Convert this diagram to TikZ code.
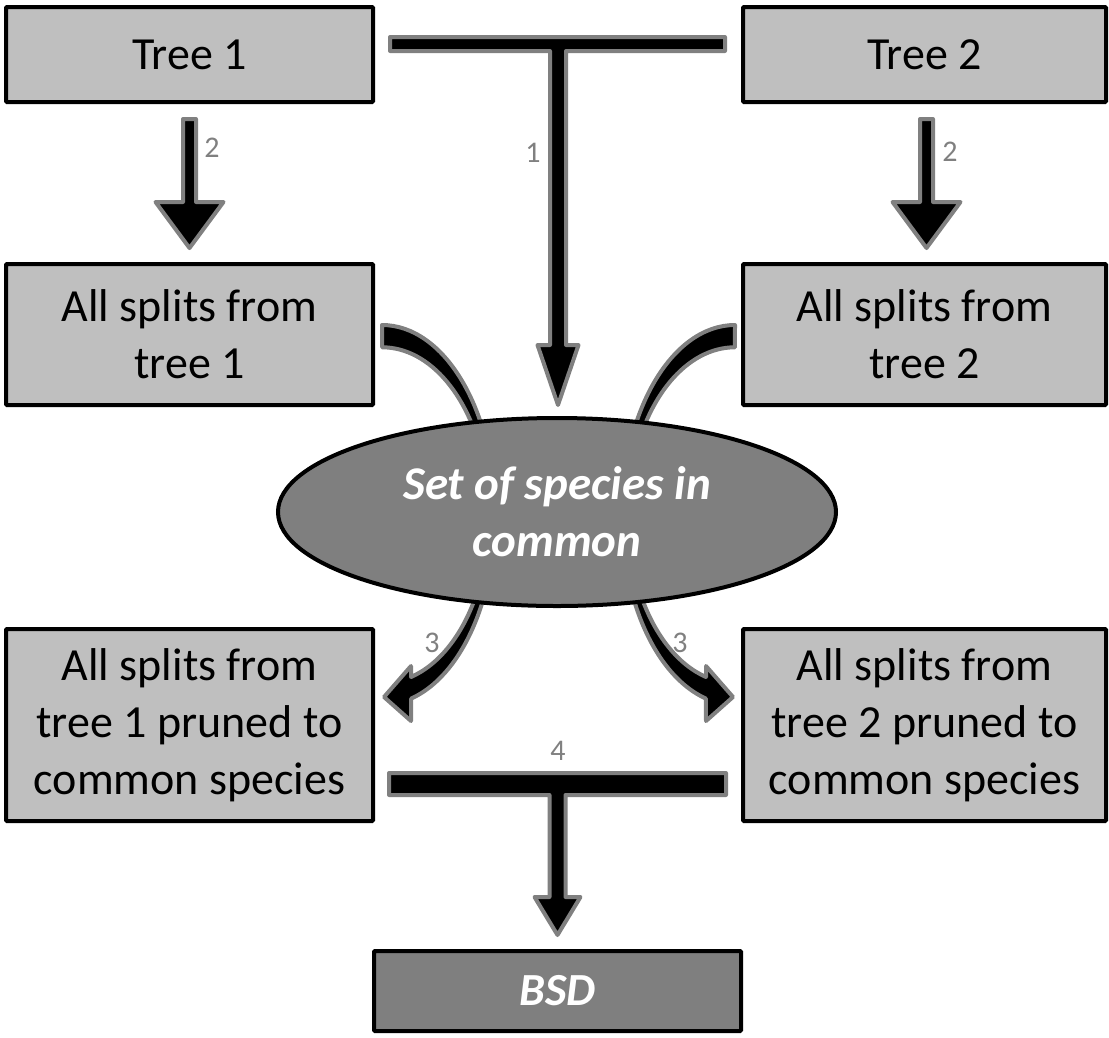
\documentclass[tikz,border=0pt]{standalone}
\usepackage{fontspec}
\setmainfont{Carlito}
\usetikzlibrary{shapes.geometric,calc}
\definecolor{boxgray}{HTML}{BFBFBF}
\definecolor{midgray}{HTML}{7F7F7F}
\definecolor{outl}{HTML}{808080}
\newcommand\fatdown[5]{%
  \filldraw[fat] ($(#1)+(-#3,0)$) -- ($(#1)+(#3,0)$) -- ($(#2)+(#3,-#5)$) -- ($(#2)+(#4,-#5)$) -- (#2) -- ($(#2)+(-#4,-#5)$) -- ($(#2)+(-#3,-#5)$) -- cycle;}
\begin{document}
\begin{tikzpicture}[x=1pt,y=-1pt,
  box/.style={draw=black, line width=4pt, fill=boxgray, rounded corners=1pt, inner sep=0pt, align=center, font=\fontsize{46}{57}\selectfont},
  dark/.style={box, fill=midgray, text=white, font=\fontsize{46}{57}\selectfont\bfseries\itshape},
  fat/.style={fill=black, draw=outl, line width=4pt, line join=round},
  num/.style={text=outl, font=\fontsize{30}{32}\selectfont, inner sep=0pt}]
\useasboundingbox (0,0) rectangle (1109,1037);

% boxes
\node[box, minimum width=367pt, minimum height=95pt] (t1) at (189.5,54.5) {Tree 1};
\node[box, minimum width=363pt, minimum height=95pt] (t2) at (924.5,54.5) {Tree 2};
\node[box, minimum width=367pt, minimum height=141pt] (s1) at (189.5,334.5) {All splits from\\tree 1};
\node[box, minimum width=363pt, minimum height=141pt] (s2) at (924.5,334.5) {All splits from\\tree 2};
\node[box, minimum width=367pt, minimum height=192pt] (p1) at (189.5,725) {All splits from\\tree 1 pruned to\\common species};
\node[box, minimum width=363pt, minimum height=192pt] (p2) at (924.5,725) {All splits from\\tree 2 pruned to\\common species};
\node[dark, minimum width=367pt, minimum height=80pt] (bsd) at (557.5,991) {BSD};

% curved arrows (behind ellipse)
\coordinate (c1) at ($(s1.east)+(7,180.5)$);
\filldraw[fat] ($(c1)+(0,-190)$) arc[start angle=90, end angle=-75.0, x radius=113pt, y radius=190pt]
  -- ($(c1)+(29,206)$) -- ($(c1)+(2,182)$) -- ($(c1)+(29,151)$) -- ($(c1)+(29,162)$)
  arc[start angle=-74.3, end angle=90, x radius=107pt, y radius=168pt] -- cycle;
\coordinate (c2) at ($(s2.west)+(-6,180.5)$);
\filldraw[fat] ($(c2)+(0,-190)$) arc[start angle=90, end angle=255.0, x radius=113pt, y radius=190pt]
  -- ($(c2)+(-29,206)$) -- ($(c2)+(-2,182)$) -- ($(c2)+(-29,151)$) -- ($(c2)+(-29,162)$)
  arc[start angle=254.3, end angle=90, x radius=107pt, y radius=168pt] -- cycle;

% ellipse
\node[ellipse, draw=black, line width=4pt, fill=midgray, minimum width=558pt, minimum height=188pt,
  inner sep=0pt, align=center, text=white, font=\fontsize{47}{57}\selectfont\bfseries\itshape]
  (ell) at (557,512) {Set of species in\\common};

% arrows 2
\coordinate (a1) at ($(t1.south)+(0,15)$);
\coordinate (b1) at ($(s1.north)+(0,-14)$);
\fatdown{a1}{b1}{6.5}{34}{46}
\coordinate (a2) at ($(t2.south)+(2,15)$);
\coordinate (b2) at ($(s2.north)+(2,-14)$);
\fatdown{a2}{b2}{6.5}{34}{46}

% T connector 1
\coordinate (T1L) at ($(t1.east)+(15,-10.5)$);
\coordinate (T1R) at ($(t2.west)+(-16,-10.5)$);
\coordinate (T1E) at ($(ell.north)+(1,-11)$);
\coordinate (T1J) at (T1E |- T1L);
\filldraw[fat] ($(T1L)+(0,-7)$) -- ($(T1R)+(0,-7)$) -- ($(T1R)+(0,7)$) -- ($(T1J)+(8,7)$)
  -- ($(T1E)+(8,-60)$) -- ($(T1E)+(20.5,-60)$) -- (T1E) -- ($(T1E)+(-20.5,-60)$) -- ($(T1E)+(-8,-60)$)
  -- ($(T1J)+(-8,7)$) -- ($(T1L)+(0,7)$) -- cycle;

% T connector 4
\coordinate (T4L) at ($(p1.east)+(14,59)$);
\coordinate (T4R) at ($(p2.west)+(-15,59)$);
\coordinate (T4E) at ($(bsd.north)+(0,-14)$);
\coordinate (T4J) at (T4E |- T4L);
\filldraw[fat] ($(T4L)+(0,-11)$) -- ($(T4R)+(0,-11)$) -- ($(T4R)+(0,11)$) -- ($(T4J)+(8,11)$)
  -- ($(T4E)+(8,-38)$) -- ($(T4E)+(23,-38)$) -- (T4E) -- ($(T4E)+(-23,-38)$) -- ($(T4E)+(-8,-38)$)
  -- ($(T4J)+(-8,11)$) -- ($(T4L)+(0,11)$) -- cycle;

% step numbers
\node[num] (n1) at (533,153) {1};
\node[num] (n2a) at (212,148) {2};
\node[num] (n2b) at (950,152) {2};
\node[num] (n3a) at (432,643) {3};
\node[num] (n3b) at (680,643) {3};
\node[num] (n4) at (558,751) {4};
\end{tikzpicture}
\end{document}
